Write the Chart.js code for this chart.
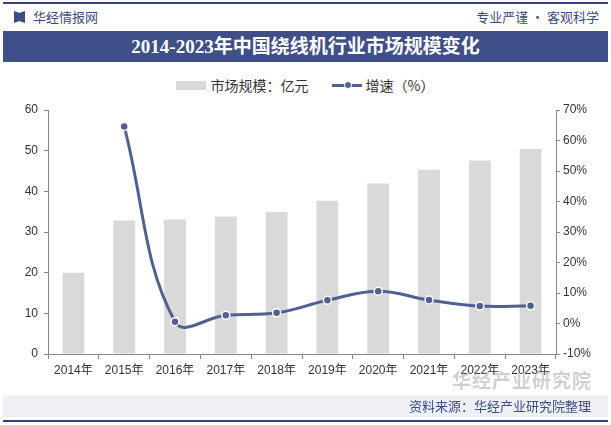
<!DOCTYPE html>
<html>
<head>
<meta charset="utf-8">
<script src="https://cdn.jsdelivr.net/npm/chart.js@4/dist/chart.umd.min.js"></script>
<style>
  html, body { margin: 0; padding: 0; background: #fff; }
  #page { position: relative; width: 611px; height: 425px; overflow: hidden; background: #fff;
          font-family: "Noto Sans CJK SC", "Liberation Sans", sans-serif; }
  .topline { position: absolute; left: 3px; top: 2px; width: 605px; height: 2px; background: #34447a; }
  .brand { position: absolute; left: 14px; top: 7px; font-size: 13px; color: #3c4d84; }
  .brand i { display: inline-block; width: 11px; height: 12px; background: #3c4d84; vertical-align: -1px; margin-right: 8px;
             clip-path: polygon(0 0, 45% 15%, 55% 15%, 100% 0, 100% 100%, 55% 85%, 45% 85%, 0 100%); }
  .motto { position: absolute; right: 12px; top: 7px; font-size: 13px; color: #3c4d84; }
  .band { position: absolute; left: 3px; top: 31px; width: 605px; height: 31px; background: #404f88;
          color: #fff; text-align: center; line-height: 31px; font-size: 19px; font-weight: bold;
          font-family: "Liberation Serif", "Noto Sans CJK SC", serif; }
  .legend { position: absolute; left: 0; top: 73px; width: 611px; text-align: center; font-size: 14px; color: #333; }
  .legend span { display: inline-block; vertical-align: middle; }
  .sw-bar { width: 30px; height: 9px; background: #d9d9d9; margin-right: 4px; }
  .sw-line { position: relative; width: 30px; height: 3px; background: #4f6096; margin: 0 4px 0 20px; }
  .sw-line b { position: absolute; left: 12px; top: -3px; width: 6px; height: 6px; border-radius: 50%; background: #4f6096; border: 1px solid #fff; }
  #wrap { position: absolute; left: 0; top: 95px; width: 611px; height: 295px; }
  .footer { position: absolute; left: 3px; top: 395px; width: 605px; height: 22px; background: #eef0f6; }
  .source { position: absolute; right: 20px; top: 396px; font-size: 13px; color: #3c4d84; }
  .botline { position: absolute; left: 3px; top: 420px; width: 605px; height: 2px; background: #34447a; }
  .wm { position: absolute; left: 452px; top: 366px; font-size: 19px; font-weight: bold; color: rgba(150,150,150,0.45); letter-spacing: 1px; }
</style>
</head>
<body>
<div id="page">
  <div class="topline"></div>
  <div class="brand"><i></i>华经情报网</div>
  <div class="motto">专业严谨 • 客观科学</div>
  <div class="band">2014-2023年中国绕线机行业市场规模变化</div>
  <div class="legend">
    <span class="sw-bar"></span><span>市场规模：亿元</span>
    <span class="sw-line"><b></b></span><span>增速（%）</span>
  </div>
  <div id="wrap"><canvas id="grafico"></canvas></div>
  <div class="wm">华经产业研究院</div>
  <div class="footer"></div>
  <div class="source">资料来源：华经产业研究院整理</div>
  <div class="botline"></div>
</div>
<script>
// dados
const anos = ['2014年', '2015年', '2016年', '2017年', '2018年', '2019年', '2020年', '2021年', '2022年', '2023年'];
const mercado = [20.0, 32.8, 33.1, 33.8, 35.0, 37.7, 41.9, 45.3, 47.6, 50.4];
const crescimento = [null, 64.6, 0.6, 2.7, 3.5, 7.6, 10.6, 7.7, 5.7, 5.8];

const eixoCor = '#888888';
const textoCor = '#333333';
const fonteEixo = { family: '"Liberation Sans", "Noto Sans CJK SC", sans-serif', size: 12 };

new Chart(document.getElementById('grafico').getContext('2d'), {
    data: {
        labels: anos,
        datasets: [
            {
                type: 'line',
                label: '增速（%）',
                data: crescimento,
                yAxisID: 'y1',
                borderColor: '#4f6096',
                borderWidth: 3,
                tension: 0.4,
                pointRadius: 4,
                pointBackgroundColor: '#4f6096',
                pointBorderColor: '#ffffff',
                pointBorderWidth: 1.5,
                order: 0
            },
            {
                type: 'bar',
                label: '市场规模：亿元',
                data: mercado,
                yAxisID: 'y',
                backgroundColor: '#d9d9d9',
                barPercentage: 0.43,
                categoryPercentage: 1.0,
                order: 1
            }
        ]
    },
    options: {
        responsive: true,
        maintainAspectRatio: false,
        animation: false,
        layout: { padding: { top: 15, left: 0, right: 0, bottom: 0 } },
        plugins: {
            legend: { display: false },
            tooltip: { enabled: false }
        },
        scales: {
            x: {
                grid: { display: true, drawOnChartArea: false, drawTicks: true, tickLength: 5, color: eixoCor, offset: true },
                border: { color: eixoCor },
                ticks: { color: textoCor, font: fonteEixo, padding: 4, maxRotation: 0 },
                afterFit: (s) => { s.height = 36; }
            },
            y: {
                position: 'left',
                min: 0, max: 60,
                ticks: { stepSize: 10, color: textoCor, font: fonteEixo, padding: 6 },
                grid: { drawOnChartArea: false, drawTicks: true, tickLength: 4, color: eixoCor },
                border: { color: eixoCor },
                afterFit: (s) => { s.width = 48; }
            },
            y1: {
                position: 'right',
                min: -10, max: 70,
                ticks: { stepSize: 10, color: textoCor, font: fonteEixo, padding: 3, callback: (v) => v + '%' },
                grid: { drawOnChartArea: false, drawTicks: true, tickLength: 4, color: eixoCor },
                border: { color: eixoCor },
                afterFit: (s) => { s.width = 55; }
            }
        }
    }
});
</script>
</body>
</html>
